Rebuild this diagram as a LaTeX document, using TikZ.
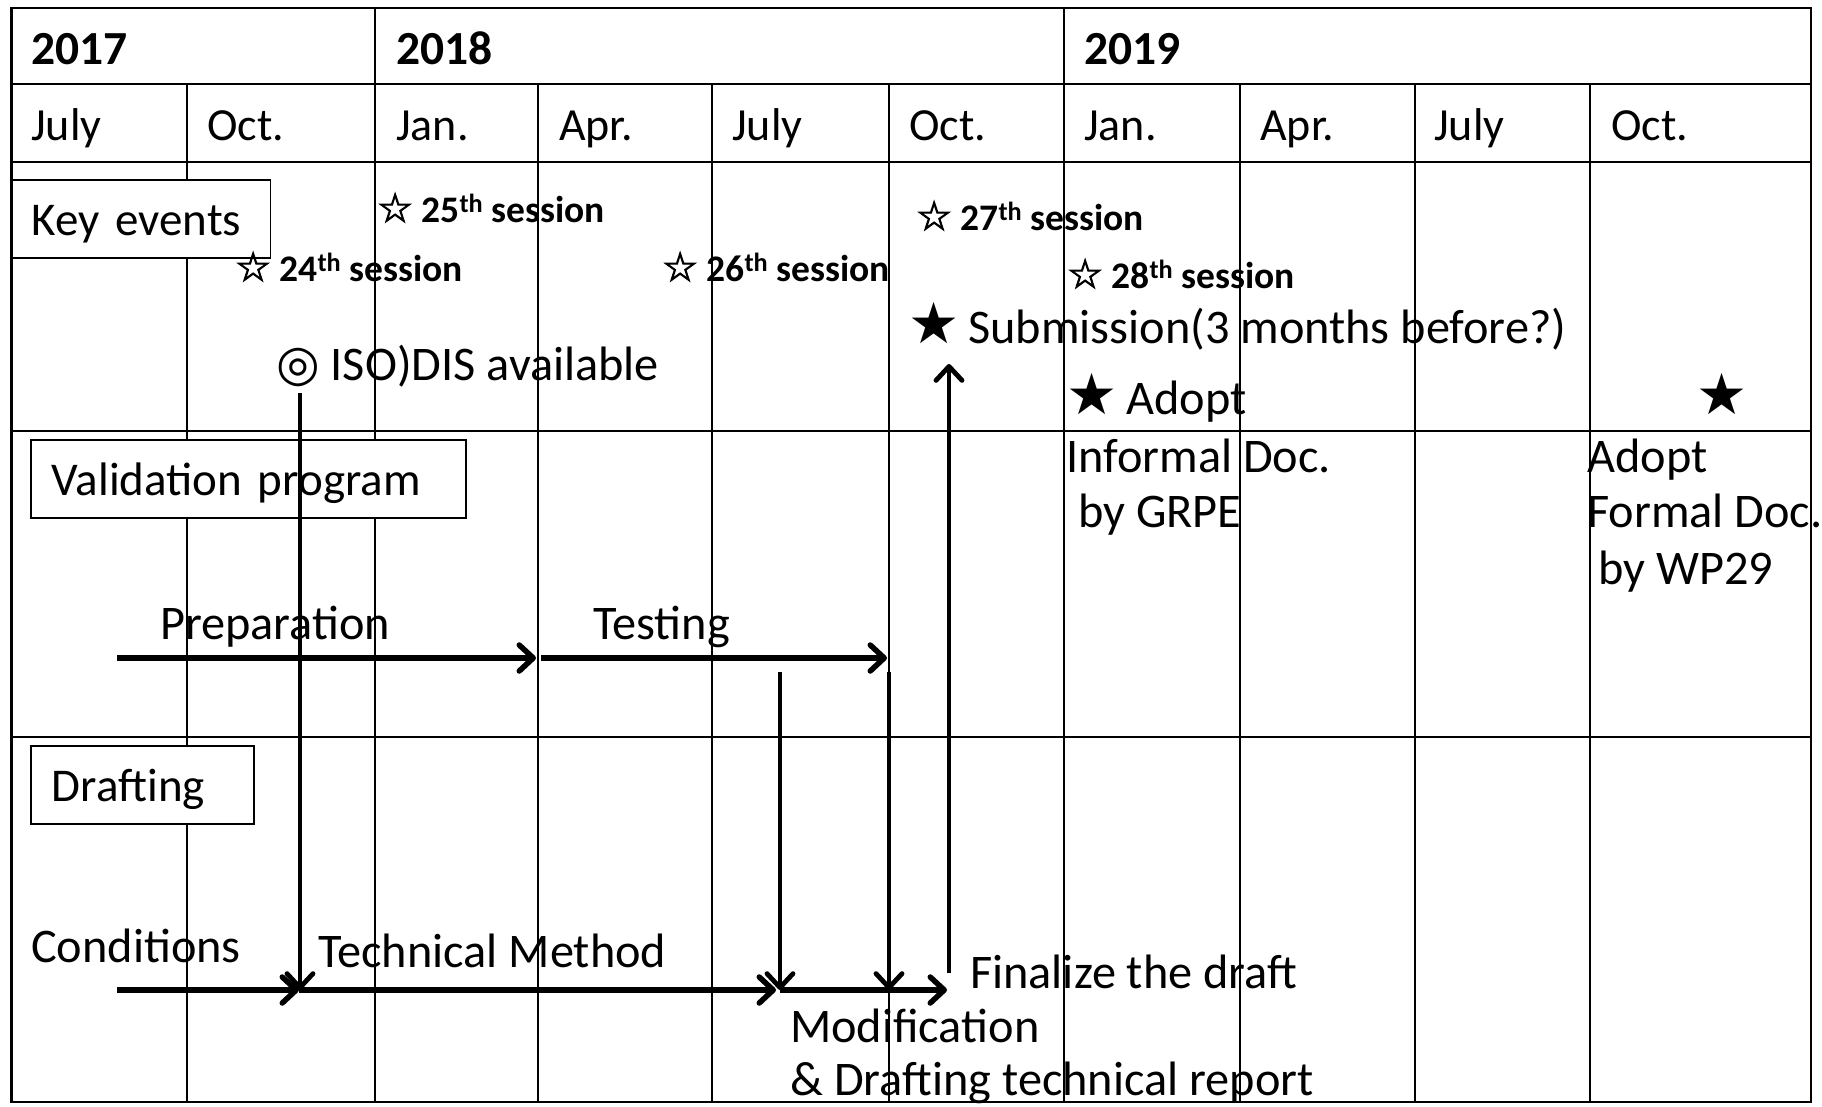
\documentclass[tikz,border=0pt]{standalone}
\usepackage{fontspec}
\setmainfont{Carlito}
\newfontfamily\symf{DejaVu Sans}
\newfontfamily\symthick{DejaVu Sans}[FakeBold=2.5]
\usetikzlibrary{arrows.meta}
\begin{document}
\begin{tikzpicture}[x=1pt,y=-1pt,
  gridline/.style={line width=2.2pt},
  mon/.style={anchor=base west, inner sep=0pt, font=\fontsize{46}{55}\selectfont},
  lbl/.style={anchor=base west, inner sep=0pt, font=\fontsize{48.3}{56}\selectfont},
  yr/.style={anchor=base west, inner sep=0pt, font=\fontsize{47.5}{55}\selectfont\bfseries},
  sess/.style={anchor=base west, inner sep=0pt, font=\fontsize{37.5}{42}\selectfont\bfseries},
  rowbox/.style={draw, line width=1.6pt, fill=white, anchor=north west, align=left,
    minimum height=78pt, inner ysep=0pt, text height=34pt, text depth=0pt,
    font=\fontsize{47}{55}\selectfont},
  flow/.style={line width=5.5pt, -{Straight Barb[length=14pt,width=26pt,round]}},
  vflow/.style={line width=4.8pt, -{Straight Barb[length=14pt,width=26pt,round]}},
]
\useasboundingbox (0,0) rectangle (1822,1106);
% grid
\draw[gridline] (11.5,8) rectangle (1811,1102);
\foreach \yy in {84,162,431,737} \draw[gridline] (11.5,\yy) -- (1811,\yy);
\foreach \xx in {187,538,712,889,1240,1415,1590} \draw[gridline] (\xx,84) -- (\xx,1102);
\foreach \xx in {375,1064} \draw[gridline] (\xx,8) -- (\xx,1102);

% years
\node[yr] (y17) at (31,64) {2017};
\node[yr] (y18) at (396,64) {2018};
\node[yr] (y19) at (1084,64) {2019};
% months
\node[mon] (m1) at (31,140) {July};
\node[mon] (m2) at (207,140) {Oct.};
\node[mon] (m3) at (396,140) {Jan.};
\node[mon] (m4) at (559,140) {Apr.};
\node[mon] (m5) at (732,140) {July};
\node[mon] (m6) at (909,140) {Oct.};
\node[mon] (m7) at (1084,140) {Jan.};
\node[mon] (m8) at (1260,140) {Apr.};
\node[mon] (m9) at (1434,140) {July};
\node[mon] (m10) at (1611,140) {Oct.};

% row boxes
\node[rowbox, inner xsep=19.5pt, text width=219pt] (keyev) at (11.5,179) {Key events};
\node[rowbox, inner xsep=21pt, text width=393pt] (valid) at (30,439) {Validation program};
\node[rowbox, inner xsep=21pt, text width=181pt] (draft) at (30,745) {Drafting};

% coordinates for arrows
\coordinate (pa) at (117,658);
\coordinate (pb) at (536,658);
\coordinate (ta) at (541,658);
\coordinate (tb) at (887,658);
\coordinate (ca) at (117,990);
\coordinate (cb) at (299,990);
\coordinate (tma) at (299,990);
\coordinate (tmb) at (776,990);
\coordinate (fa) at (780,990);
\coordinate (fb) at (947,990);
\coordinate (isoa) at (300,393);
\coordinate (isob) at (300,990);
\coordinate (m1a) at (780,672);
\coordinate (m1b) at (780,990);
\coordinate (m2a) at (889,672);
\coordinate (m2b) at (889,990);
\coordinate (upa) at (949,973);
\coordinate (upb) at (949,364);

\draw[flow] (pa) -- (pb);
\draw[flow] (ta) -- (tb);
\draw[flow] (ca) -- (cb);
\draw[flow] (tma) -- (tmb);
\draw[flow] (fa) -- (fb);
\draw[vflow] (isoa) -- (isob);
\draw[vflow] (m1a) -- (m1b);
\draw[vflow] (m2a) -- (m2b);
\draw[vflow] (upa) -- (upb);

% key events
\node[sess] (s24) at (235,281) {{\symthick\fontsize{40}{42}\selectfont ☆} 24\textsuperscript{th} session};
\node[sess] (s25) at (377,222) {{\symthick\fontsize{40}{42}\selectfont ☆} 25\textsuperscript{th} session};
\node[sess] (s26) at (662,281) {{\symthick\fontsize{40}{42}\selectfont ☆} 26\textsuperscript{th} session};
\node[sess] (s27) at (916,230) {{\symthick\fontsize{40}{42}\selectfont ☆} 27\textsuperscript{th} session};
\node[sess] (s28) at (1067,288) {{\symthick\fontsize{40}{42}\selectfont ☆} 28\textsuperscript{th} session};
\node[lbl] (subm) at (908,343) {{\symf\fontsize{57}{60}\selectfont ★}\hspace{-2pt} Submission(3 months before?)};
\node[lbl] (iso) at (276,380) {{\symf\fontsize{50}{55}\selectfont ◎} ISO)DIS available};
\node[lbl] (adopt1) at (1066,414) {{\symf\fontsize{57}{60}\selectfont ★}\hspace{-2pt} Adopt};
\node[lbl] (adopt2) at (1696,414) {{\symf\fontsize{57}{60}\selectfont ★}};
\node[lbl] (inf1) at (1066,472) {Informal Doc.};
\node[lbl] (inf2) at (1078,527) {by GRPE};
\node[lbl] (form1) at (1587,472) {Adopt};
\node[lbl] (form2) at (1587,527) {Formal Doc.};
\node[lbl] (form3) at (1598,584) {by WP29};

% validation
\node[lbl] (prep) at (160,639) {Preparation};
\node[lbl] (test) at (593,639) {Testing};
% drafting
\node[lbl] (cond) at (31,962) {Conditions};
\node[lbl] (tech) at (318,967) {Technical Method};
\node[lbl] (fin) at (970,988) {Finalize the draft};
\node[lbl] (mod1) at (790,1042) {Modification};
\node[lbl] (mod2) at (790,1095) {\& Drafting technical report};
\end{tikzpicture}
\end{document}
